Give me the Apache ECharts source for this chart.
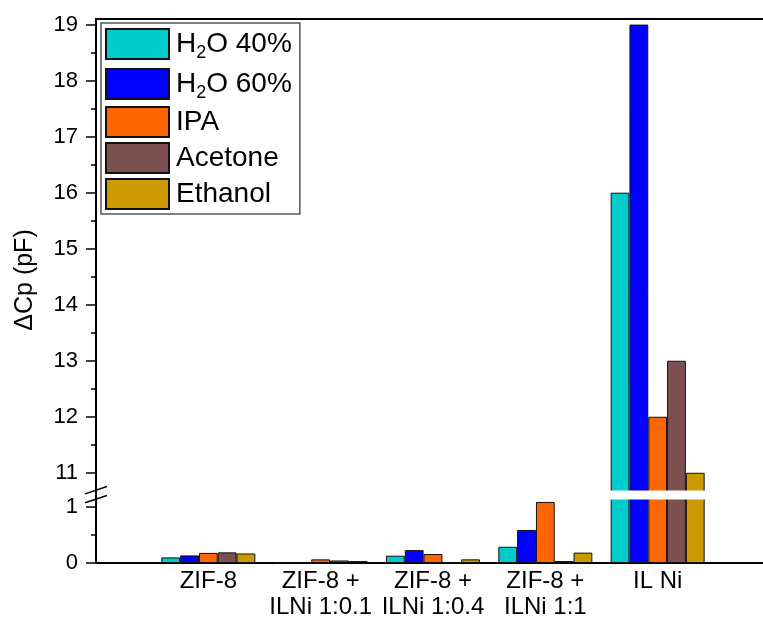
<!DOCTYPE html>
<html><head><meta charset="utf-8">
<script src="https://cdn.jsdelivr.net/npm/echarts@6/dist/echarts.min.js"></script>
<style>html,body{margin:0;padding:0;background:#fff}#c{width:763px;height:617px}</style>
</head><body><div id="c"></div>
<script>
// ---- data ----
const categories = ['ZIF-8', 'ZIF-8 +\nILNi 1:0.1', 'ZIF-8 +\nILNi 1:0.4', 'ZIF-8 +\nILNi 1:1', 'IL Ni'];
const seriesNames = ['H₂O 40%', 'H₂O 60%', 'IPA', 'Acetone', 'Ethanol'];
const h2o40   = [0.10, 0, 0.13, 0.29, 16];
const h2o60   = [0.135, 0, 0.23, 0.59, 19];
const ipa     = [0.18, 0.065, 0.16, 1.09, 12];
const acetone = [0.19, 0.045, 0, 0.035, 13];
const ethanol = [0.17, 0.035, 0.065, 0.185, 11];
const yMajorTicks = [0, 1, 11, 12, 13, 14, 15, 16, 17, 18, 19];
const yMinorTicks = [0.5, 11.5, 12.5, 13.5, 14.5, 15.5, 16.5, 17.5, 18.5];
const yMin = 0, yMax = 19.1;
const breakStart = 1.14, breakEnd = 10.69;

// ---- style ----
const FONT = 'Liberation Sans, Arial, sans-serif';
const colors = ['#00CCCC', '#0000FF', '#FF6600', '#7D5050', '#CC9900'];
const allValues = [h2o40, h2o60, ipa, acetone, ethanol];

const chart = echarts.init(document.getElementById('c'), null, {renderer: 'canvas'});

const breakCfg = [{start: breakStart, end: breakEnd, gap: '1.65%'}];
const breakArea = {
  show: true,
  itemStyle: {color: '#fff', borderWidth: 0, opacity: 1},
  zigzagAmplitude: 0,
  zigzagZ: 50,
  expandOnClick: false
};

const option = {
  animation: false,
  backgroundColor: '#fff',
  color: colors,
  grid: {left: 96, top: 19, right: -7, bottom: 54, show: true, borderColor: '#000', borderWidth: 2,
         backgroundColor: 'transparent', containLabel: false, outerBoundsMode: 'none'},
  legend: {
    orient: 'vertical',
    left: 101, top: 23,
    icon: 'rect',
    itemWidth: 63, itemHeight: 30, itemGap: 4,
    padding: [3, 8, 4, 4],
    backgroundColor: '#fff',
    borderColor: '#555', borderWidth: 1.5,
    data: seriesNames,
    formatter: function (name) {
      if (name.indexOf('₂') >= 0) {
        const parts = name.split('₂');
        return '{a|' + parts[0] + '}{s|2}{a|' + parts[1] + '}';
      }
      return name;
    },
    textStyle: {
      fontSize: 28, color: '#000', fontFamily: FONT, lineHeight: 28, padding: [0, 0, 0, 2],
      rich: {
        a: {fontSize: 28, color: '#000', fontFamily: FONT, lineHeight: 36, verticalAlign: 'middle'},
        s: {fontSize: 18, color: '#000', fontFamily: FONT, lineHeight: 12, verticalAlign: 'bottom'}
      }
    }
  },
  xAxis: {
    type: 'category',
    data: [''].concat(categories, ['']),
    boundaryGap: false,
    axisLine: {show: true, lineStyle: {color: '#000', width: 2}},
    axisTick: {show: false},
    splitLine: {show: false},
    axisLabel: {interval: 0, fontSize: 24, lineHeight: 26, color: '#000', fontFamily: FONT, margin: 5}
  },
  yAxis: [{
    type: 'value',
    min: yMin, max: yMax,
    breaks: breakCfg,
    breakArea: breakArea,
    axisLine: {show: true, lineStyle: {color: '#000', width: 2}},
    axisTick: {show: true, length: 10, customValues: yMajorTicks, lineStyle: {color: '#000', width: 1.5}},
    axisLabel: {customValues: yMajorTicks, fontSize: 22, color: '#000', fontFamily: FONT, margin: 18},
    splitLine: {show: false},
    name: 'ΔCp (pF)',
    nameLocation: 'middle',
    nameRotate: 90,
    nameGap: 58,
    nameTextStyle: {fontSize: 25, color: '#000', fontFamily: FONT, padding: [0, 0, 0, 22]}
  }, {
    type: 'value',
    position: 'left',
    min: yMin, max: yMax,
    breaks: breakCfg,
    breakArea: {show: false},
    axisLine: {show: false},
    axisTick: {show: true, length: 5, customValues: yMinorTicks, lineStyle: {color: '#000', width: 1.5}},
    axisLabel: {show: false},
    splitLine: {show: false}
  }],
  series: seriesNames.map(function (name, i) {
    return {
      name: name,
      type: 'bar',
      yAxisIndex: 0,
      barWidth: 18.8,
      barGap: '0%',
      itemStyle: {color: colors[i], borderColor: '#111', borderWidth: 1},
      data: ['-'].concat(allValues[i], ['-'])
    };
  })
};
chart.setOption(option);

// axis-break marks "//" on the y axis
const yTop = chart.convertToPixel({yAxisIndex: 0}, breakEnd);
const yBot = chart.convertToPixel({yAxisIndex: 0}, breakStart);
const xAx = chart.convertToPixel({xAxisIndex: 0}, 0);
function slash(yc) {
  return {type: 'line', z: 100, shape: {x1: xAx - 11, y1: yc + 3.7, x2: xAx + 11, y2: yc - 3.7},
          style: {stroke: '#000', lineWidth: 1.5}};
}
chart.setOption({graphic: [
  {type: 'line', z: 99, shape: {x1: xAx, y1: yTop, x2: xAx, y2: yBot}, style: {stroke: '#000', lineWidth: 2}},
  slash(yTop), slash(yBot)
]});
</script></body></html>
